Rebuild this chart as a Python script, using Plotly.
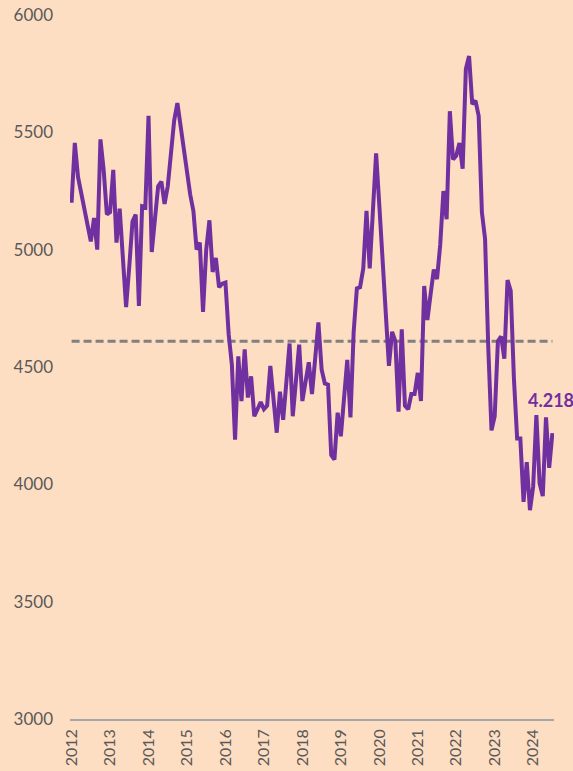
import pandas as pd
import plotly.graph_objects as go

# Monthly series, Jan 2012 - Jul 2024
values_2012 = [5200, 5455, 5310, 5240, 5170, 5100, 5035, 5135, 5000, 5470, 5340, 5150]
values_2013 = [5160, 5340, 5030, 5175, 4990, 4755, 4930, 5120, 5150, 4760, 5185, 5180]
values_2014 = [5570, 4990, 5130, 5270, 5290, 5195, 5270, 5410, 5550, 5625, 5520, 5420]
values_2015 = [5320, 5235, 5165, 5000, 5030, 4735, 5000, 5125, 4905, 4965, 4840, 4855]
values_2016 = [4860, 4640, 4510, 4190, 4545, 4355, 4575, 4370, 4460, 4290, 4320, 4350]
values_2017 = [4320, 4335, 4505, 4365, 4220, 4395, 4275, 4435, 4600, 4290, 4445, 4595]
values_2018 = [4355, 4440, 4520, 4385, 4540, 4690, 4490, 4430, 4425, 4125, 4105, 4305]
values_2019 = [4205, 4370, 4530, 4285, 4650, 4835, 4840, 4920, 5165, 4920, 5160, 5410]
values_2020 = [5190, 4980, 4760, 4505, 4650, 4610, 4310, 4660, 4335, 4320, 4385, 4385]
values_2021 = [4475, 4355, 4845, 4700, 4810, 4915, 4875, 5020, 5250, 5130, 5590, 5385]
values_2022 = [5400, 5455, 5345, 5770, 5825, 5620, 5635, 5570, 5160, 5045, 4580, 4230]
values_2023 = [4290, 4610, 4630, 4535, 4870, 4825, 4450, 4195, 4195, 3925, 4095, 3890]
values_2024 = [3990, 4295, 4005, 3950, 4285, 4070, 4218]

average_level = 4610
year_labels = [str(y) for y in range(2012, 2025)]

values = (values_2012 + values_2013 + values_2014 + values_2015 + values_2016
          + values_2017 + values_2018 + values_2019 + values_2020 + values_2021
          + values_2022 + values_2023 + values_2024)
months = pd.date_range("2012-01-01", periods=len(values), freq="MS").strftime("%Y-%m").tolist()

PURPLE = "#7030A0"
GREY_TEXT = "#595959"
BG = "#FEDEC2"

fig = go.Figure()

fig.add_trace(go.Scatter(
    x=months, y=[average_level] * len(months), mode="lines",
    line=dict(color="#808080", width=3, dash="8px,4px"),
    hoverinfo="skip", showlegend=False,
))

fig.add_trace(go.Scatter(
    x=months, y=values, mode="lines",
    line=dict(color=PURPLE, width=4),
    showlegend=False,
))

last_value = values[-1]
fig.add_annotation(
    x=months[-1], y=last_value,
    text=f"<b>{last_value / 1000:.3f}</b>",
    showarrow=False, xanchor="center", yanchor="middle",
    xshift=-1, yshift=33,
    font=dict(family="Lato", size=18, color=PURPLE),
)

fig.update_layout(
    width=573, height=771,
    margin=dict(l=70, r=19, t=15, b=52),
    paper_bgcolor=BG, plot_bgcolor=BG,
    font=dict(family="Lato", size=17, color=GREY_TEXT),
    xaxis=dict(
        type="category",
        range=[-0.5, len(months) - 0.5],
        tickvals=[f"{y}-01" for y in year_labels],
        ticktext=year_labels,
        tickangle=-90,
        automargin=False,
        showgrid=False, zeroline=False,
        showline=True, linecolor="#A6A6A6", linewidth=1.5,
        ticks="", ticklen=0, ticklabelstandoff=2,
        tickfont=dict(family="Lato", size=16, color=GREY_TEXT),
    ),
    yaxis=dict(
        range=[3000, 6000],
        tickvals=[3000, 3500, 4000, 4500, 5000, 5500, 6000],
        automargin=False,
        showgrid=False, zeroline=False, showline=False,
        ticks="", ticklabelstandoff=16,
        tickfont=dict(family="Lato", size=17, color=GREY_TEXT),
    ),
)

fig.write_html("out.html")
